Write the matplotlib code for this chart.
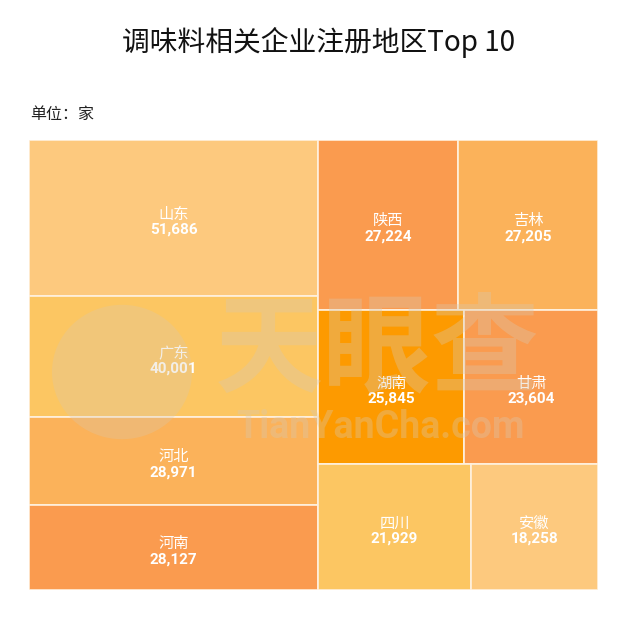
"""
调味料相关企业注册地区 Top 10 矩形树图
"""
import matplotlib
matplotlib.use('Agg')
import matplotlib.pyplot as plt
from matplotlib.patches import Rectangle, Circle

plt.rcParams['font.family'] = ['Noto Sans CJK SC', 'DejaVu Sans']

# ======================== 数据 ========================
regions = ['山东', '广东', '河北', '河南', '陕西', '吉林', '湖南', '甘肃', '四川', '安徽']
counts = [51686, 40001, 28971, 28127, 27224, 27205, 25845, 23604, 21929, 18258]
# 每个区域的配色
colors = ['#FDC97E', '#FCC662', '#FBB25A', '#FA9B4F', '#FA9B4F',
          '#FBB25A', '#FD9A00', '#FA9B4F', '#FCC662', '#FDC97E']
# 分组：第一组为左侧竖列，其余各组为右侧横排
strip_sizes = [4, 2, 2, 2]
# ======================================================


def strip_layout(vals, strips, x, y, w, h):
    """按分组切分矩形，面积与数值成正比"""
    rects = []
    i = 0
    remaining = float(sum(vals))
    for k, n in enumerate(strips):
        part = vals[i:i + n]
        s = float(sum(part))
        if k == 0:
            cw = w * s / remaining
            yy = y
            for v in part:
                hh = h * v / s
                rects.append((x, yy, cw, hh))
                yy += hh
            x += cw
            w -= cw
        else:
            rh = h * s / remaining
            xx = x
            for v in part:
                ww = w * v / s
                rects.append((xx, y, ww, rh))
                xx += ww
            y += rh
            h -= rh
        remaining -= s
        i += n
    return rects


W, H = 644, 618
fig = plt.figure(figsize=(W / 100, H / 100), dpi=100)
fig.patch.set_facecolor('white')

# 绘图区域（像素）
px0, px1, py0, py1 = 29, 598, 140, 590
ax = fig.add_axes([px0 / W, 1 - py1 / H, (px1 - px0) / W, (py1 - py0) / H])
ax.set_xlim(0, 1)
ax.set_ylim(1, 0)
ax.axis('off')

rects = strip_layout(counts, strip_sizes, 0, 0, 1, 1)
for (x, y, w, h), c in zip(rects, colors):
    ax.add_patch(Rectangle((x, y), w, h, facecolor=c, edgecolor='#FFF1DF',
                           linewidth=1.2, zorder=1))

# 水印
wm_color = '#D8C8B0'
fig.patches.append(Circle((122 / W, 1 - 372 / H), 70 / W, transform=fig.transFigure,
                          facecolor=wm_color, alpha=0.3, edgecolor='none', zorder=5))
fig.text(377 / W, 1 - 352 / H, '天眼查', fontsize=78, fontweight='bold',
         color=wm_color, alpha=0.35, ha='center', va='center', zorder=5)
fig.text(380 / W, 1 - 428 / H, 'TianYanCha.com', fontsize=27, fontweight='bold',
         family=['Roboto', 'DejaVu Sans'],
         color=wm_color, alpha=0.35, ha='center', va='center', zorder=5)

# 标签
for (x, y, w, h), name, v in zip(rects, regions, counts):
    cx, cy = x + w / 2, y + h / 2
    ax.annotate(name, (cx, cy), xytext=(0, 3), textcoords='offset points',
                ha='center', va='center', fontsize=11, color='white', zorder=10)
    ax.annotate(f'{v:,}', (cx, cy), xytext=(0, -8.5), textcoords='offset points',
                ha='center', va='center', fontsize=11, fontweight='bold',
                family=['Roboto', 'DejaVu Sans'], color='white', zorder=10)

fig.text(0.494, 1 - 42 / H, '调味料相关企业注册地区Top 10', fontsize=20,
         ha='center', va='center', color='#111111')
fig.text(30 / W, 1 - 114 / H, '单位：家', fontsize=11.5, ha='left', va='center',
         color='#222222')

fig.savefig('out.png', dpi=100)
